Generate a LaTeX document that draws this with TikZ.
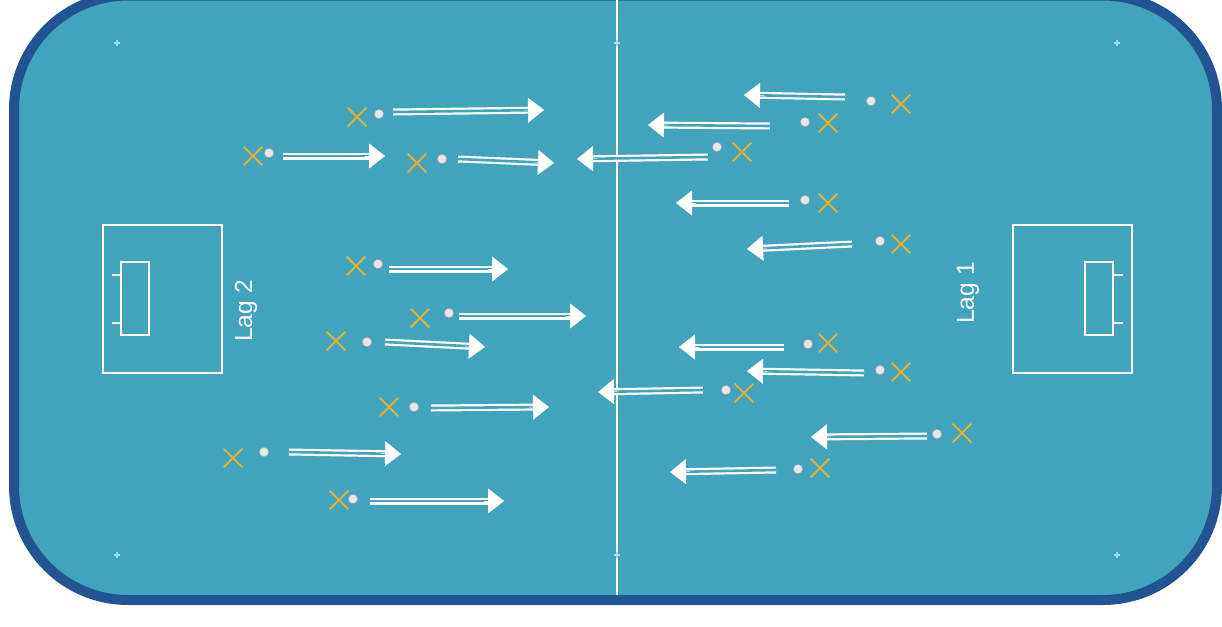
\documentclass[tikz,border=0pt]{standalone}
\usepackage{fontspec}
\setmainfont{Liberation Sans}
\usetikzlibrary{arrows.meta,shapes.misc,calc}
\definecolor{pitch}{RGB}{66,163,189}
\definecolor{rim}{RGB}{34,84,146}
\definecolor{gold}{RGB}{220,178,58}
\definecolor{marker}{RGB}{160,222,238}
\definecolor{ballc}{RGB}{228,231,236}
\definecolor{ballline}{RGB}{150,158,170}
\begin{document}
\begin{tikzpicture}[x=0.5pt,y=-0.5pt,
  player/.style={cross out, draw=gold, line width=1pt, minimum size=8.3pt, inner sep=0pt},
  ball/.style={circle, fill=ballc, draw=ballline, line width=0.3pt, minimum size=4.8pt, inner sep=0pt},
  shaft/.style={draw=white, line width=1.1pt, double=pitch, double distance=1.3pt, shorten >=7.6pt},
  head/.style={draw=white, line width=0.2pt, -{Triangle[length=8pt,width=12.5pt]}},
  pline/.style={draw=white, line width=0.9pt},
  mk/.style={draw=marker, line width=0.6pt},
  lbl/.style={text=white, font=\fontsize{12.3pt}{14pt}\selectfont, rotate=90, inner sep=0pt}
]
\fill[white] (0,0) rectangle (1222,627);
\useasboundingbox (0,0) rectangle (1222,627);
% pitch
\path[fill=pitch, draw=rim, line width=5pt, rounded corners=57pt] (14,-4.5) rectangle (1217,600);
% centre line
\draw[pline] (617,0) -- (617,595);
% corner / centre markers
\foreach \mx/\my in {117/43,617/43,1117/43,117/555,617/555,1117/555}
  \draw[mk] (\mx,\my-3) -- (\mx,\my+3) (\mx-3,\my) -- (\mx+3,\my);
% left goal area
\draw[pline] (103,225) rectangle (222,373);
\draw[pline] (121,262) rectangle (149,335);
\draw[pline] (112,275) -- (121,275) (112,323) -- (121,323);
\node[lbl] (lag2) at (246,311) {Lag 2};
% right goal area
\draw[pline] (1013,225) rectangle (1132,373);
\draw[pline] (1085,262) rectangle (1113,335);
\draw[pline] (1113,275) -- (1123,275) (1113,323) -- (1123,323);
\node[lbl] (lag1) at (968,293) {Lag 1};
% Lag 2 players (running right)
\foreach \i/\xx/\yx/\xb/\yb/\xs/\ys/\xe/\ye in {
  1/357/117/379/114/393/112/544/110,
  2/253/156/269/153/283/156/385/156,
  3/417/163/442/159/458/159/554/163,
  4/356/266/378/264/389/269/508/269,
  5/420/318/449/313/459/316/586/316,
  6/336/341/367/342/385/342/485/347,
  7/389/407/414/407/431/408/549/407,
  8/233/458/264/452/289/452/401/454,
  9/339/500/353/499/370/501/504/501}
{
  \node[player] (L\i) at (\xx,\yx) {};
  \node[ball] (LB\i) at (\xb,\yb) {};
  \coordinate (LS\i) at (\xs,\ys);
  \coordinate (LE\i) at (\xe,\ye);
  \draw[shaft] (LS\i) -- (LE\i);
  \draw[head] ($(LE\i)!10pt!(LS\i)$) -- (LE\i);
}
% Lag 1 players (running left)
\foreach \i/\xx/\yx/\xb/\yb/\xs/\ys/\xe/\ye in {
  1/901/104/871/101/845/97/744/95,
  2/828/123/805/122/770/126/648/125,
  3/742/152/717/147/708/157/577/159,
  4/828/203/805/200/789/203/676/203,
  5/901/244/880/241/852/244/747/249,
  6/828/343/808/344/784/347/679/347,
  7/901/372/880/370/864/373/747/371,
  8/744/393/726/390/703/390/598/392,
  9/962/433/937/434/927/436/811/437,
  10/820/468/798/469/776/470/670/472}
{
  \node[player] (R\i) at (\xx,\yx) {};
  \node[ball] (RB\i) at (\xb,\yb) {};
  \coordinate (RS\i) at (\xs,\ys);
  \coordinate (RE\i) at (\xe,\ye);
  \draw[shaft] (RS\i) -- (RE\i);
  \draw[head] ($(RE\i)!10pt!(RS\i)$) -- (RE\i);
}
\end{tikzpicture}
\end{document}
